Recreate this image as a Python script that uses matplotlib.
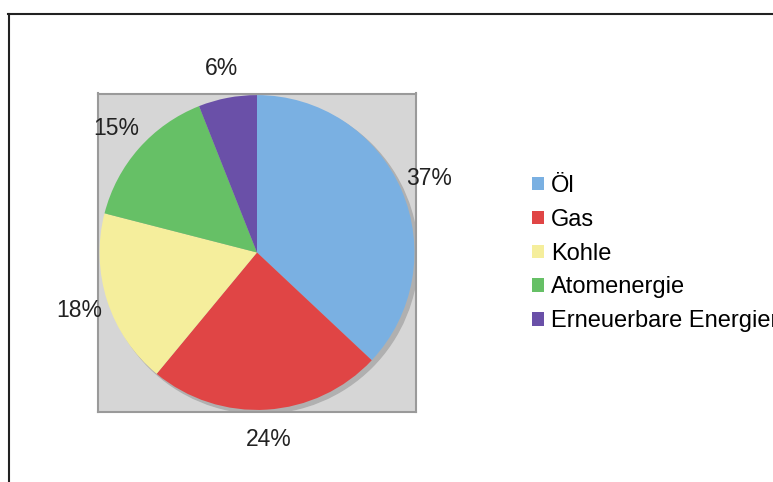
import matplotlib
matplotlib.use('Agg')
import matplotlib.pyplot as plt
from matplotlib.patches import Circle
from matplotlib.lines import Line2D

plt.rcParams['font.family'] = ['Liberation Sans', 'DejaVu Sans']

labels = ['Öl', 'Gas', 'Kohle', 'Atomenergie', 'Erneuerbare Energien']
anteile = [37, 24, 18, 15, 6]
farben = ['#7AB0E2', '#E04545', '#F5EE9C', '#66C066', '#6A50A8']

fig = plt.figure(figsize=(7.73, 4.82), dpi=100)
ax = fig.add_axes([98 / 773, 70 / 482, 318 / 773, 319 / 482])

# Schatten hinter dem Kuchen
ax.add_patch(Circle((0.022, -0.022), 1.0, color='#B0B0B0', zorder=0))

wedges, texts, autotexts = ax.pie(anteile, colors=farben, startangle=90, counterclock=False,
                                  autopct='%.0f%%', pctdistance=1.19, radius=1.0,
                                  frame=True, textprops={'fontsize': 16.5, 'color': '#222222'})
for w in wedges:
    w.set_zorder(1)
for t in autotexts:
    t.set_clip_on(False)

ax.set_facecolor('#D6D6D6')
for s in ax.spines.values():
    s.set_color('#9A9A9A')
    s.set_linewidth(1.5)
ax.set_xticks([])
ax.set_yticks([])
ax.set_xlim(-1.01, 1.01)
ax.set_ylim(-1.01, 1.01)

fig.legend(wedges, labels, loc='upper left', bbox_to_anchor=(532 / 773, 1 - 175 / 482),
           frameon=False, fontsize=17, handlelength=0.5, handleheight=0.5,
           handletextpad=0.3, labelspacing=0.5, borderpad=0, borderaxespad=0)

# Rahmenlinien oben und links
fig.add_artist(Line2D([8 / 773, 1], [1 - 14 / 482, 1 - 14 / 482], color='#222222', lw=1.5))
fig.add_artist(Line2D([9 / 773, 9 / 773], [0, 1 - 14 / 482], color='#222222', lw=1.5))

fig.savefig('out.png', dpi=100)
